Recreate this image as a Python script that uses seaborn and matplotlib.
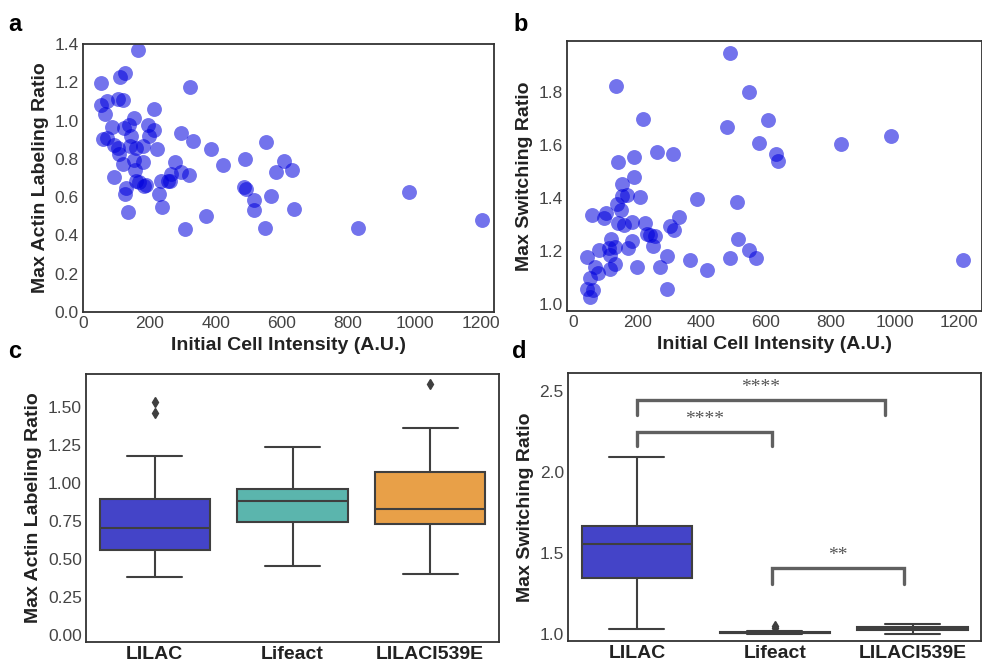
import numpy as np
import pandas as pd
import seaborn as sns
import matplotlib
matplotlib.use("Agg")
import matplotlib.pyplot as plt

# scatter data
int_a = [53, 167, 111, 126, 323, 55, 73, 105, 120, 65, 213, 153, 87, 125, 140,
         195, 213, 60, 73, 297, 333, 387, 553, 145, 200, 93, 105, 143, 160, 180,
         222, 110, 153, 180, 122, 277, 488, 421, 605, 631, 583, 157, 95, 267,
         297, 320, 235, 257, 263, 160, 170, 185, 190, 130, 128, 230, 487, 492,
         515, 568, 983, 238, 517, 637, 137, 370, 307, 550, 829, 1203]
actin_a = [1.195, 1.369, 1.227, 1.25, 1.176, 1.083, 1.103, 1.111, 1.106, 1.033,
           1.059, 1.015, 0.968, 0.963, 0.975, 0.975, 0.95, 0.905, 0.91, 0.936,
           0.893, 0.854, 0.886, 0.919, 0.919, 0.87, 0.858, 0.866, 0.858, 0.866,
           0.854, 0.823, 0.796, 0.782, 0.775, 0.782, 0.80, 0.77, 0.789, 0.744,
           0.732, 0.744, 0.705, 0.723, 0.73, 0.718, 0.683, 0.686, 0.686, 0.686,
           0.677, 0.656, 0.665, 0.648, 0.618, 0.616, 0.653, 0.642, 0.583, 0.607,
           0.627, 0.551, 0.532, 0.537, 0.52, 0.504, 0.436, 0.439, 0.441, 0.48]

int_b = [488, 133, 549, 218, 607, 480, 989, 834, 579, 261, 311, 630, 638, 141,
         191, 191, 154, 153, 168, 208, 385, 510, 137, 151, 61, 104, 96, 142, 158,
         184, 224, 330, 303, 315, 230, 240, 254, 249, 184, 119, 130, 514, 81, 173,
         112, 117, 44, 292, 364, 488, 548, 568, 1214, 132, 117, 70, 77, 201, 272,
         416, 53, 44, 62, 52, 292]
switch_b = [1.944, 1.819, 1.80, 1.697, 1.693, 1.666, 1.633, 1.603, 1.608, 1.574,
            1.565, 1.565, 1.539, 1.534, 1.553, 1.477, 1.451, 1.407, 1.411, 1.402,
            1.397, 1.384, 1.379, 1.354, 1.337, 1.342, 1.323, 1.306, 1.298, 1.308,
            1.304, 1.327, 1.295, 1.279, 1.264, 1.26, 1.256, 1.22, 1.239, 1.247,
            1.216, 1.244, 1.206, 1.21, 1.213, 1.185, 1.178, 1.182, 1.168, 1.175,
            1.203, 1.175, 1.168, 1.153, 1.134, 1.141, 1.116, 1.141, 1.141, 1.131,
            1.099, 1.057, 1.053, 1.028, 1.057]

# box plot data (values chosen to reproduce the drawn quartiles / whiskers / outliers)
groups = ["LILAC", "Lifeact", "LILACI539E"]
actin_lilac = [0.379, 0.45, 0.51, 0.557, 0.62, 0.66, 0.701, 0.76, 0.83, 0.894, 1.174, 1.457, 1.533]
actin_lifeact = [0.451, 0.60, 0.740, 0.80, 0.882, 0.92, 0.961, 1.10, 1.237]
actin_i539e = [0.403, 0.60, 0.729, 0.78, 0.826, 0.95, 1.073, 1.358, 1.647]
switch_lilac = [1.033, 1.20, 1.343, 1.45, 1.553, 1.61, 1.664, 1.85, 2.091]
switch_lifeact = [0.998, 1.002, 1.004, 1.005, 1.006, 1.007, 1.008, 1.009, 1.01, 1.012, 1.02, 1.04, 1.05]
switch_i539e = [1.002, 1.012, 1.022, 1.028, 1.032, 1.036, 1.042, 1.05, 1.062]

box_colors = ["#4444C8", "#5BB5AD", "#E8A048"]

# significance brackets: (x start, x end, height, leg drop, label)
brackets = [(0.0, 0.98, 2.247, 0.09, "****"),
            (0.0, 1.80, 2.443, 0.09, "****"),
            (0.98, 1.94, 1.409, 0.10, "**")]

sns.set_style("white")
plt.rcParams["font.family"] = ["Liberation Sans", "DejaVu Sans"]
plt.rcParams["axes.edgecolor"] = "#333333"
plt.rcParams["axes.linewidth"] = 1.3
plt.rcParams["xtick.color"] = "#444444"
plt.rcParams["ytick.color"] = "#444444"
plt.rcParams["xtick.labelsize"] = 12.5
plt.rcParams["ytick.labelsize"] = 12.5

W, H = 982, 663
fig = plt.figure(figsize=(W / 100, H / 100), dpi=100)


def box(l, r, t, b):
    return [l / W, (H - b) / H, (r - l) / W, (b - t) / H]


ax_a = fig.add_axes(box(83, 494, 44, 312))
ax_b = fig.add_axes(box(567, 981.5, 41, 311))
ax_c = fig.add_axes(box(86, 499, 374, 642))
ax_d = fig.add_axes(box(568, 981.5, 373, 641))

lab = dict(fontsize=14, fontweight="bold", color="#222222")

df_a = pd.DataFrame({"x": int_a, "y": actin_a})
sns.scatterplot(data=df_a, x="x", y="y", ax=ax_a, color="#0000DD", alpha=0.55, s=115, linewidth=0)
ax_a.set_xlim(0, 1240)
ax_a.set_ylim(0, 1.4)
ax_a.set_xticks(range(0, 1201, 200))
ax_a.set_yticks(np.arange(0, 1.41, 0.2))
ax_a.set_xlabel("Initial Cell Intensity (A.U.)", **lab)
ax_a.set_ylabel("Max Actin Labeling Ratio", **lab)

df_b = pd.DataFrame({"x": int_b, "y": switch_b})
sns.scatterplot(data=df_b, x="x", y="y", ax=ax_b, color="#0000DD", alpha=0.55, s=115, linewidth=0)
ax_b.set_xlim(-18, 1270)
ax_b.set_ylim(0.975, 1.99)
ax_b.set_xticks(range(0, 1201, 200))
ax_b.set_yticks(np.arange(1.0, 1.81, 0.2))
ax_b.set_xlabel("Initial Cell Intensity (A.U.)", **lab)
ax_b.set_ylabel("Max Switching Ratio", **lab)

df_c = pd.DataFrame({
    "group": ["LILAC"] * len(actin_lilac) + ["Lifeact"] * len(actin_lifeact) + ["LILACI539E"] * len(actin_i539e),
    "val": actin_lilac + actin_lifeact + actin_i539e})
df_d = pd.DataFrame({
    "group": ["LILAC"] * len(switch_lilac) + ["Lifeact"] * len(switch_lifeact) + ["LILACI539E"] * len(switch_i539e),
    "val": switch_lilac + switch_lifeact + switch_i539e})

flier = dict(marker="d", markerfacecolor="#3f3f3f", markeredgecolor="#3f3f3f", markersize=5)
for ax, df in [(ax_c, df_c), (ax_d, df_d)]:
    sns.boxplot(data=df, x="group", y="val", hue="group", order=groups, hue_order=groups,
                palette=box_colors, saturation=1, linecolor="#3f3f3f", linewidth=1.5,
                flierprops=flier, width=0.8, ax=ax, legend=False)
    ax.set_xlim(-0.5, 2.5)
    ax.set_xlabel("")
    ax.tick_params(axis="x", labelsize=14, labelcolor="#222222")
    for t in ax.get_xticklabels():
        t.set_fontweight("bold")

ax_c.set_ylim(-0.046, 1.715)
ax_c.set_yticks(np.arange(0, 1.51, 0.25))
ax_c.set_ylabel("Max Actin Labeling Ratio", **lab)

ax_d.set_ylim(0.957, 2.61)
ax_d.set_yticks([1.0, 1.5, 2.0, 2.5])
ax_d.set_ylabel("Max Switching Ratio", **lab)

for x1, x2, h, drop, txt in brackets:
    ax_d.plot([x1, x1, x2, x2], [h - drop, h, h, h - drop], color="#606060", lw=2.4,
              solid_joinstyle="miter")
    ax_d.text((x1 + x2) / 2, h + 0.025, txt, ha="center", va="bottom", fontsize=14,
              color="#555555", family=["Liberation Serif", "DejaVu Serif"])

for ax in [ax_a, ax_b, ax_c, ax_d]:
    ax.tick_params(length=0, pad=3)

letters = [("a", 8, 31), ("b", 513, 31), ("c", 8, 358), ("d", 512, 358)]
for ch, x, y in letters:
    fig.text(x / W, (H - y) / H, ch, fontsize=17, fontweight="bold", color="black")

fig.savefig("out.png", dpi=100)
